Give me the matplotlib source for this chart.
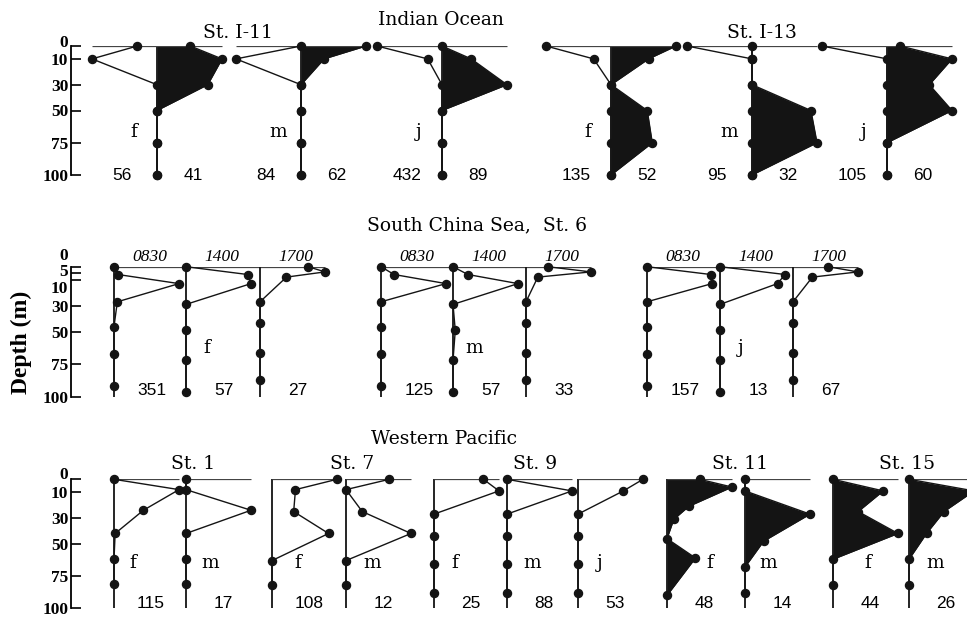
import numpy as np
import matplotlib.pyplot as plt

plt.rcParams['font.family'] = ['DejaVu Serif']

# Indian Ocean, stations I-11 and I-13: profiles drawn to the left (line) and right (filled)
io_stations = ['St. I-11', 'St. I-13']
io_depth = [0, 10, 30, 50, 75, 100]
io_stage = ['f', 'm', 'j', 'f', 'm', 'j']
io_left = [[17, 56, 0, 0, 0, 0],
           [0, 84, 0, 0, 0, 0],
           [432, 95, 0, 0, 0, 0],
           [135, 36, 0, 0, 0, 0],
           [95, 0, 0, 0, 0, 0],
           [105, 0, 0, 0, 0, 0]]
io_right = [[21, 41, 32, 0, 0, 0],
            [62, 22, 0, 0, 0, 0],
            [0, 40, 89, 0, 0, 0],
            [52, 30, 0, 29, 33, 0],
            [0, 0, 0, 29, 32, 0],
            [12, 60, 39, 60, 0, 0]]

# South China Sea, St. 6: three casts per stage
scs_times = ['0830', '1400', '1700']
scs_stage = ['f', 'm', 'j']
scs_depth = [[0, 6, 13, 27, 46, 67, 92],
             [0, 6, 13, 29, 49, 72, 96],
             [0, 4, 8, 27, 43, 66, 87]]
scs_f = [[0, 21, 351, 18, 0, 0, 0],
         [0, 54, 57, 0, 0, 0, 0],
         [20, 27, 11, 0, 0, 0, 0]]
scs_m = [[0, 25, 125, 0, 0, 0, 0],
         [0, 13, 57, 0, 2, 0, 0],
         [11, 33, 6, 0, 0, 0, 0]]
scs_j = [[0, 154, 157, 0, 0, 0, 0],
         [0, 13, 11.5, 0, 0, 0, 0],
         [36, 67, 20, 0, 0, 0, 0]]

# Western Pacific
wp_stations = ['St. 1', 'St. 7', 'St. 9', 'St. 11', 'St. 15']
wp_stage = ['f', 'm', 'f', 'm', 'f', 'm', 'j', 'f', 'm', 'f', 'm']
wp_depth = [[0, 8, 24, 42, 62, 81], [0, 8, 24, 42, 62, 81],
            [0, 8, 25, 42, 63, 82], [0, 8, 25, 42, 63, 82],
            [0, 9, 27, 44, 66, 88], [0, 9, 27, 44, 66, 88], [0, 9, 27, 44, 66, 88],
            [0, 6, 21, 31, 46, 61, 90], [0, 9, 27, 48, 68, 88],
            [0, 9, 25, 42, 62, 82], [0, 9, 25, 42, 62, 82]]
wp_values = [[0, 115, 52, 2, 0, 0], [0, 0, 17, 0, 0, 0],
             [108, 39, 36, 94, 0, 0], [8, 0, 3, 12, 0, 0],
             [19, 25, 0, 0, 0, 0], [0, 88, 0, 0, 0, 0], [53, 37, 0, 0, 0, 0],
             [24, 48, 16, 5, 0, 21, 0], [0, 0, 14, 4, 0, 0],
             [0, 34, 17, 44, 0, 0], [0, 26, 14, 7, 0, 0]]
wp_filled = [False] * 7 + [True] * 4

# layout (pixels)
W = 65
io_x = [157, 301, 442, 611, 752, 887]
io_title_x = [238, 762]
scs_x = [[114, 186, 260], [381, 453, 526], [647, 720, 793]]
wp_x = [114, 186, 272, 346, 434, 507, 578, 667, 745, 833, 909]
wp_label_dx = [19, 24, 26, 26, 21, 25, 22, 43, 23, 35, 26]
wp_title_x = [193, 352, 535, 740, 907]

INK = '#141414'
SANS = 'Liberation Sans'
TIMES = 'Liberation Serif'
TICKFONT = dict(family=TIMES, fontweight='bold', fontsize=12.5)

fig = plt.figure(figsize=(9.67, 6.17), dpi=100)


def ptext(x, y, s, **kw):
    fig.text(x / 967, 1 - y / 617, s, ha='center', va='center', **kw)


def row_axes(top, bottom, ticks, labels):
    ax = fig.add_axes([71 / 967, 1 - bottom / 617, 896 / 967, (bottom - top) / 617])
    ax.set_xlim(71, 967)
    ax.set_ylim(100, 0)
    ax.patch.set_visible(False)
    for s in ['top', 'right', 'bottom']:
        ax.spines[s].set_visible(False)
    ax.spines['left'].set_linewidth(1.3)
    ax.set_xticks([])
    ax.set_yticks(ticks, labels=labels, **TICKFONT)
    ax.tick_params(axis='y', direction='in', length=7, width=1.2, pad=2)
    return ax


def profile(ax, x0, depth, values, side=1, filled=False):
    d = np.asarray(depth, float)
    v = np.asarray(values, float)
    x = x0 + side * W * v / v.max()
    if filled:
        ax.fill_betweenx(d, x0, x, color=INK, lw=0, zorder=2)
    ax.plot(x, d, color=INK, lw=1.0, marker='o', ms=5.8, clip_on=False, zorder=4)
    return v.max()


def stem(ax, x0, x1, x2):
    ax.vlines(x0, 0, 100, color=INK, lw=1.3, zorder=3)
    ax.hlines(0, x1, x2, color='#444444', lw=0.9, zorder=3)


# Indian Ocean
ax1 = row_axes(46, 175, [0, 10, 30, 50, 75, 100], ['', '10', '30', '50', '75', '100'])
ax1.text(68, -2.5, '0', ha='right', va='center', **TICKFONT)
for x0, st, left, right in zip(io_x, io_stage, io_left, io_right):
    stem(ax1, x0, x0 - W, x0 + W)
    lmax = profile(ax1, x0, io_depth, left, side=-1)
    rmax = profile(ax1, x0, io_depth, right, side=1, filled=True)
    ax1.text(x0 - 23, 67, st, ha='center', va='center', fontsize=13.5)
    ax1.text(x0 - 35, 100, f'{lmax:g}', ha='center', va='center', family=SANS, fontsize=12.5)
    ax1.text(x0 + 36, 100, f'{rmax:g}', ha='center', va='center', family=SANS, fontsize=12.5)
ptext(441, 20, 'Indian Ocean', fontsize=13.5)
for tx, name in zip(io_title_x, io_stations):
    ptext(tx, 33, name, fontsize=13.5)

# South China Sea (crowded labels near the surface are set by hand)
ax2 = row_axes(266.7, 396.7, [0, 5, 10, 30, 50, 75, 100], ['', '', '', '30', '50', '75', '100'])
for d, s in zip([-8, 4, 17.5], ['0', '5', '10']):
    ax2.text(68, d, s, ha='right', va='center', **TICKFONT)
for xs, st, casts in zip(scs_x, scs_stage, [scs_f, scs_m, scs_j]):
    ax2.hlines(0, xs[0], xs[-1] + W, color='#444444', lw=0.9, zorder=3)
    for x0, t, d, vals in zip(xs, scs_times, scs_depth, casts):
        ax2.vlines(x0, 0, 100, color=INK, lw=1.3, zorder=3)
        vmax = profile(ax2, x0, d, vals)
        ax2.text(x0 + 36, -7.5, t, ha='center', va='center', family=TIMES,
                 style='italic', fontsize=12.5)
        ax2.text(x0 + 38, 95, f'{vmax:g}', ha='center', va='center', family=SANS, fontsize=12.5)
    ax2.text(xs[1] + 21, 62.5, st, ha='center', va='center', fontsize=13.5)
ptext(477, 225, 'South China Sea,  St. 6', fontsize=13.5)

# Western Pacific
ax3 = row_axes(479.3, 608.3, [0, 10, 30, 50, 75, 100], ['', '10', '30', '50', '75', '100'])
ax3.text(68, -3, '0', ha='right', va='center', **TICKFONT)
for x0, dx, st, d, vals, filled in zip(wp_x, wp_label_dx, wp_stage, wp_depth, wp_values, wp_filled):
    stem(ax3, x0, x0, x0 + W)
    vmax = profile(ax3, x0, d, vals, filled=filled)
    ax3.text(x0 + dx, 65, st, ha='center', va='center', fontsize=13.5)
    ax3.text(x0 + 37, 96, f'{vmax:g}', ha='center', va='center', family=SANS, fontsize=12.5)
ptext(444, 439, 'Western Pacific', fontsize=13.5)
for tx, name in zip(wp_title_x, wp_stations):
    ptext(tx, 464, name, fontsize=13.5)

ptext(21, 342, 'Depth (m)', family=TIMES, fontweight='bold', fontsize=17, rotation=90)

fig.savefig('out.png', dpi=100)
